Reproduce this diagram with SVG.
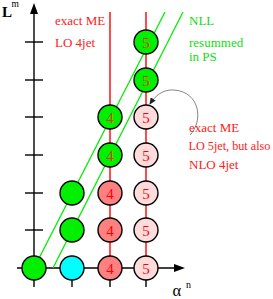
<svg xmlns="http://www.w3.org/2000/svg" width="273" height="299" viewBox="0 0 273 299">
<style>
.ax{stroke:#000;stroke-width:1.4;fill:none}
.rl{stroke:#ff2020;stroke-width:1.6}
.gl{stroke:#00ee00;stroke-width:1.3}
.c{stroke:#000;stroke-width:1.4}
.g{fill:#00f000}
.cy{fill:#00ffff}
.r{fill:#ff8080}
.p{fill:#ffdcdc}
.n{font-family:"Liberation Serif",serif;font-size:15px;text-anchor:middle;fill:#ff0000}
.ng{fill:#e03800}
.tr{font-family:"Liberation Serif",serif;font-size:13px;fill:#ff2020}
.tg{font-family:"Liberation Serif",serif;font-size:13px;fill:#10dd10}
</style>
<defs>
<marker id="ah" markerWidth="7" markerHeight="6" refX="6" refY="3" orient="auto" markerUnits="userSpaceOnUse">
<path d="M0,0 L7,3 L0,6 Z" fill="#222"/>
</marker>
</defs>
<g id="axes">
<line class="ax" x1="34" y1="287" x2="34" y2="13"/>
<path d="M34,3 L30,14 L38,14 Z" fill="#000"/>
<line class="ax" x1="17" y1="268" x2="176" y2="268"/>
<path d="M185,268 L174,264 L174,272 Z" fill="#000"/>
<line class="ax" x1="25" y1="42" x2="43" y2="42"/>
<line class="ax" x1="25" y1="80" x2="43" y2="80"/>
<line class="ax" x1="25" y1="117" x2="43" y2="117"/>
<line class="ax" x1="25" y1="155" x2="43" y2="155"/>
<line class="ax" x1="25" y1="193" x2="43" y2="193"/>
<line class="ax" x1="25" y1="230" x2="43" y2="230"/>
<line class="ax" x1="72" y1="259" x2="72" y2="287"/>
<line class="ax" x1="110" y1="259" x2="110" y2="287"/>
<line class="ax" x1="146" y1="259" x2="146" y2="287"/>
<text x="2" y="17" font-family="Liberation Serif,serif" font-size="15" font-weight="bold">L</text>
<text x="11.5" y="7" font-family="Liberation Serif,serif" font-size="9.5">m</text>
<text x="172.5" y="296" font-family="Liberation Serif,serif" font-size="16.5">α</text>
<text x="186" y="288" font-family="Liberation Serif,serif" font-size="10">n</text>
</g>
<g id="connectors">
<line class="rl" x1="110" y1="12" x2="110" y2="268"/>
<line class="rl" x1="146" y1="12" x2="146" y2="268"/>
<line class="gl" x1="34" y1="268" x2="165" y2="12"/>
<line class="gl" x1="53" y1="268" x2="183" y2="12"/>
<path d="M190,135 C203,122 201,92 174,90 C163,89 155,96 150,104" fill="none" stroke="#666" stroke-width="0.8" marker-end="url(#ah)"/>
</g>
<g id="n1-0"><circle class="c g" cx="34" cy="268" r="12"/></g>
<g id="n2-0"><circle class="c cy" cx="72" cy="268" r="12"/></g>
<g id="n2-1"><circle class="c g" cx="72" cy="230" r="12"/></g>
<g id="n2-2"><circle class="c g" cx="72" cy="193" r="12"/></g>
<g id="n4-0"><circle class="c r" cx="110" cy="268" r="12"/><text class="n" x="110" y="273.5">4</text></g>
<g id="n4-1"><circle class="c r" cx="110" cy="230" r="12"/><text class="n" x="110" y="235.5">4</text></g>
<g id="n4-2"><circle class="c r" cx="110" cy="193" r="12"/><text class="n" x="110" y="198.5">4</text></g>
<g id="n4-3"><circle class="c g" cx="110" cy="155" r="12"/><text class="n ng" x="110" y="160.5">4</text></g>
<g id="n4-4"><circle class="c g" cx="110" cy="117" r="12"/><text class="n ng" x="110" y="122.5">4</text></g>
<g id="n5-0"><circle class="c p" cx="146" cy="268" r="12"/><text class="n" x="146" y="273.5">5</text></g>
<g id="n5-1"><circle class="c p" cx="146" cy="230" r="12"/><text class="n" x="146" y="235.5">5</text></g>
<g id="n5-2"><circle class="c p" cx="146" cy="193" r="12"/><text class="n" x="146" y="198.5">5</text></g>
<g id="n5-3"><circle class="c p" cx="146" cy="155" r="12"/><text class="n" x="146" y="160.5">5</text></g>
<g id="n5-4"><circle class="c p" cx="146" cy="117" r="12"/><text class="n" x="146" y="122.5">5</text></g>
<g id="n5-5"><circle class="c g" cx="146" cy="80" r="12"/><text class="n ng" x="146" y="85.5">5</text></g>
<g id="n5-6"><circle class="c g" cx="146" cy="42" r="12"/><text class="n ng" x="146" y="47.5">5</text></g>
<g id="labels">
<text class="tr" x="55" y="25">exact ME</text>
<text class="tr" x="55" y="47">LO 4jet</text>
<text class="tg" x="189" y="25">NLL</text>
<text class="tg" x="189" y="47">resummed</text>
<text class="tg" x="189" y="61">in PS</text>
<text class="tr" x="189" y="132">exact ME</text>
<text class="tr" x="188.5" y="150" style="font-size:12.2px">LO 5jet, but also</text>
<text class="tr" x="189" y="169">NLO 4jet</text>
</g>
</svg>
